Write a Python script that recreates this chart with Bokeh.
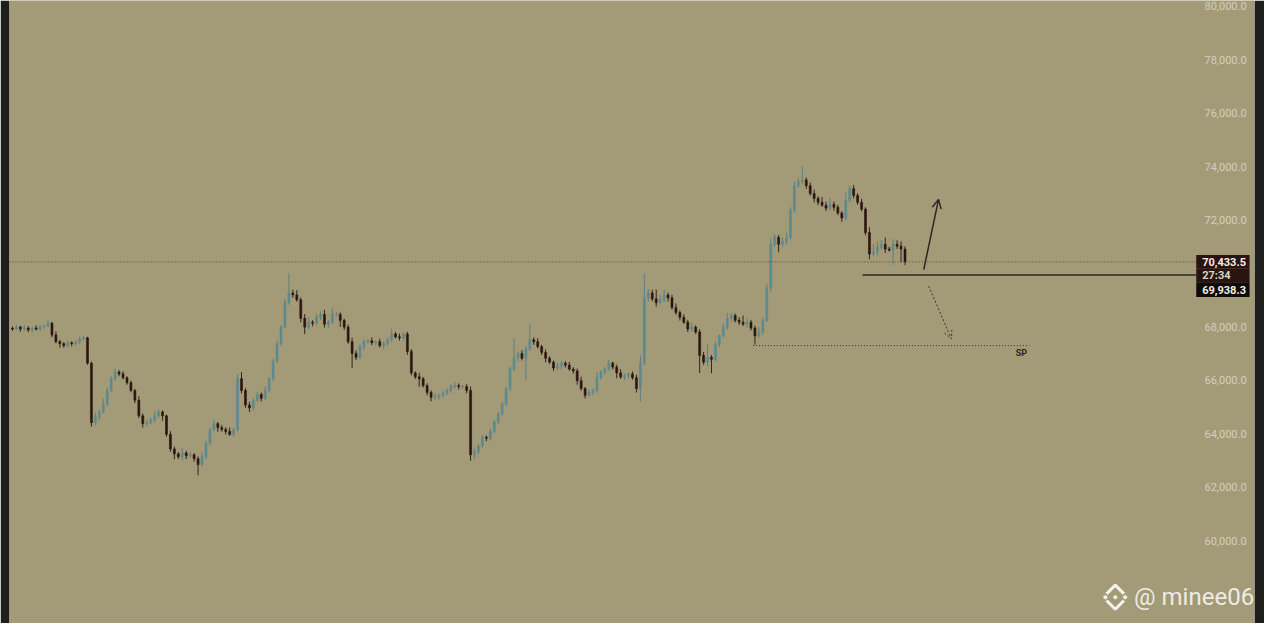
import numpy as np
from bokeh.plotting import figure
from bokeh.models import ColumnDataSource, Arrow, OpenHead, Range1d
from bokeh.embed import file_html
from bokeh.resources import INLINE
from bokeh.core.properties import value

# ---------------- data ----------------
first_open = 67955
close = [
    67918, 67992, 67918, 67955, 67882, 67955, 67918, 67992, 68028, 68138,
    67700, 67444, 67371, 67298, 67408, 67371, 67444, 67554, 67590, 66641,
    64415, 64634, 64816, 65108, 65619, 66057, 66313, 66240, 66094, 65911,
    65619, 65254, 64670, 64378, 64415, 64524, 64670, 64816, 64670, 63977,
    63429, 63247, 63137, 63283, 63174, 63210, 63064, 62845, 63137, 63648,
    64159, 64378, 64232, 64159, 64086, 63977, 64159, 66057, 65619, 65072,
    64962, 65254, 65473, 65327, 65619, 66057, 66714, 67371, 67992, 68904,
    69269, 69196, 69014, 68320, 67992, 68174, 68138, 68357, 68466, 68101,
    68174, 68466, 68466, 68247, 67992, 67444, 67006, 66860, 67262, 67444,
    67481, 67408, 67444, 67298, 67371, 67517, 67736, 67627, 67590, 67736,
    67079, 66276, 66130, 66057, 65802, 65546, 65364, 65400, 65437, 65510,
    65619, 65765, 65802, 65765, 65765, 65619, 63210, 63320, 63539, 63867,
    63831, 64086, 64451, 64743, 65108, 65692, 66422, 66860, 67006, 66824,
    67189, 67517, 67444, 67262, 67043, 66824, 66678, 66459, 66532, 66641,
    66568, 66422, 66349, 65984, 65692, 65437, 65546, 65619, 66094, 66313,
    66422, 66641, 66495, 66276, 66130, 66167, 66240, 66094, 65692, 66641,
    69087, 69269, 69050, 68904, 69014, 69196, 69087, 68722, 68539, 68357,
    68174, 67918, 67992, 67809, 66933, 66678, 66860, 66787, 67335, 67663,
    67992, 68320, 68430, 68247, 68174, 68101, 68174, 67955, 67663, 67809,
    68247, 69452, 71094, 71350, 71094, 71204, 71350, 72372, 73284, 73430,
    73503, 73284, 72992, 72810, 72664, 72554, 72445, 72591, 72481, 72262,
    72080, 72737, 73175, 72919, 72664, 72408, 71532, 70729, 70802, 70985,
    71094, 70912, 70875, 71094, 71021, 70912, 70433.5,
]
upper_wick = [
    60, 90, 50, 120, 70, 60, 100, 80, 60, 110,
    50, 130, 70, 60, 90, 50, 60, 80, 70, 40,
    60, 150, 80, 200, 110, 90, 120, 70, 100, 60,
    80, 60, 150, 90, 120, 70, 160, 90, 60, 40,
    120, 90, 60, 180, 80, 110, 70, 90, 150, 80,
    70, 140, 60, 100, 80, 150, 60, 180, 250, 90,
    120, 80, 110, 70, 160, 60, 90, 120, 80, 150,
    730, 120, 180, 90, 160, 200, 80, 140, 110, 170,
    90, 260, 120, 80, 60, 100, 150, 110, 80, 90,
    70, 130, 60, 110, 80, 90, 200, 70, 120, 60,
    80, 90, 60, 150, 70, 90, 80, 120, 60, 100,
    70, 90, 140, 80, 60, 90, 150, 120, 80, 90,
    70, 110, 60, 80, 100, 60, 90, 700, 80, 120,
    100, 580, 90, 130, 70, 110, 80, 60, 120, 90,
    80, 120, 70, 90, 150, 60, 110, 80, 200, 90,
    70, 120, 60, 90, 140, 80, 60, 90, 110, 300,
    900, 150, 120, 350, 180, 200, 90, 110, 160, 80,
    120, 90, 150, 70, 100, 130, 480, 90, 110, 60,
    140, 200, 90, 70, 110, 250, 150, 80, 90, 180,
    100, 150, 220, 120, 90, 150, 180, 110, 160, 140,
    510, 90, 120, 150, 80, 200, 130, 250, 100, 90,
    70, 300, 110, 140, 90, 130, 70, 200, 300, 220,
    150, 250, 90, 200, 150, 180, 100,
]
lower_wick = [
    70, 50, 100, 60, 80, 90, 50, 70, 60, 40,
    90, 60, 150, 80, 70, 100, 60, 80, 50, 60,
    150, 90, 130, 60, 80, 50, 70, 90, 60, 80,
    70, 110, 80, 150, 90, 60, 100, 70, 180, 90,
    100, 200, 80, 150, 120, 70, 110, 400, 60, 80,
    90, 70, 160, 80, 110, 60, 90, 70, 110, 100,
    150, 90, 70, 120, 60, 80, 100, 70, 90, 60,
    80, 110, 70, 150, 260, 90, 120, 80, 100, 130,
    140, 70, 90, 250, 110, 80, 550, 100, 70, 130,
    60, 90, 110, 80, 140, 70, 90, 60, 100, 80,
    130, 90, 80, 300, 70, 110, 150, 90, 120, 80,
    60, 90, 70, 110, 80, 100, 220, 150, 80, 60,
    110, 90, 70, 80, 60, 90, 100, 70, 140, 80,
    840, 90, 120, 70, 100, 150, 60, 110, 80, 130,
    90, 70, 100, 150, 80, 120, 60, 90, 80, 70,
    110, 60, 90, 200, 80, 120, 90, 70, 150, 500,
    80, 120, 90, 150, 70, 100, 140, 80, 90, 120,
    70, 110, 90, 80, 660, 100, 150, 520, 90, 80,
    60, 90, 120, 80, 100, 70, 130, 90, 330, 80,
    100, 70, 150, 110, 300, 90, 120, 80, 100, 70,
    90, 120, 80, 150, 100, 60, 110, 90, 130, 80,
    150, 90, 70, 110, 90, 80, 100, 200, 90, 120,
    80, 150, 60, 560, 100, 500, 120,
]
tick_values = [60000, 62000, 64000, 66000, 68000, 70000, 72000, 74000, 76000, 78000, 80000]
tick_labels = ["60,000.0", "62,000.0", "64,000.0", "66,000.0", "68,000.0", "70,000.0",
               "72,000.0", "74,000.0", "76,000.0", "78,000.0", "80,000.0"]
last_price = 70433.5
last_label = "70,433.5"
countdown = "27:34"
level_price = 69938.3
level_label = "69,938.3"
sp_level = 67300
sp_label = "SP"
watermark = "@ minee06"

# ---------------- build ----------------
BG = "#a39b78"
UP = "#5d8a8e"
DOWN = "#2c1611"
INK = "#2a2820"

n = len(close)
opens = [first_open] + close[:-1]
xs = list(range(n))
tops = [max(o, c) for o, c in zip(opens, close)]
bots = [min(o, c) for o, c in zip(opens, close)]
highs = [t + u for t, u in zip(tops, upper_wick)]
lows = [b - l for b, l in zip(bots, lower_wick)]
body_col = [UP if c >= o else DOWN for o, c in zip(opens, close)]
wick_col = ["#617e7c" if c >= o else "#34241b" for o, c in zip(opens, close)]

src = ColumnDataSource(dict(x=xs, top=tops, bottom=bots, high=highs, low=lows,
                            bc=body_col, wc=wick_col))

W, H = 1264, 623
# one "reference pixel" in data units
ux = 0.25      # index units per ref px (4 px per candle)
py = 36.5      # price per ref px
x0, x1 = -0.75, 314.5
y0, y1 = 80219 - 639 * py, 80219.0

p = figure(width=W, height=H, output_backend="svg", toolbar_location=None,
           x_range=Range1d(x0, x1), y_range=Range1d(y0, y1),
           background_fill_color=BG, border_fill_color="#1e1e1c",
           min_border_left=9, min_border_right=10, min_border_top=0, min_border_bottom=0)
p.outline_line_color = None
p.xaxis.visible = False
p.yaxis.visible = False
p.grid.visible = False

p.segment(x0="x", y0="low", x1="x", y1="high", line_color="wc", line_width=1, source=src)
p.vbar(x="x", width=0.5, top="top", bottom="bottom", fill_color="bc",
       line_color="bc", line_width=0.6, source=src)

# axis labels drawn inside the chart on the right
xr_lab = 312.5
p.text(x=[xr_lab] * len(tick_values), y=tick_values, text=tick_labels,
       text_align="right", text_baseline="middle", text_font=value("Roboto"),
       text_font_size="11px", text_color="#d3cebf")

# price lines
box_left = 299.75
box_right = 313.25
p.segment(x0=[x0], y0=[last_price], x1=[box_left], y1=[last_price],
          line_color="#4a4436", line_width=1, line_dash="1 2")
level_start = 215.25
p.segment(x0=[level_start], y0=[level_price], x1=[box_left], y1=[level_price],
          line_color=INK, line_width=1.5)
sp_start = 187.5
sp_end = 257.5
p.segment(x0=[sp_start], y0=[sp_level], x1=[sp_end], y1=[sp_level],
          line_color="#3a362b", line_width=1, line_dash="1 2")
p.text(x=[sp_end - 8 * ux], y=[sp_level - 8 * py], text=[sp_label],
       text_align="center", text_baseline="middle", text_font=value("Roboto"),
       text_font_size="9px", text_font_style="bold", text_color=INK)

# price boxes
b1_top = last_price + 7 * py
p.quad(left=[box_left] * 3, right=[box_right] * 3,
       top=[b1_top, b1_top - 14 * py, b1_top - 28 * py],
       bottom=[b1_top - 14 * py, b1_top - 28 * py, b1_top - 43 * py],
       fill_color=["#2b130f", "#2b130f", "#0e0b08"], line_color=None)
txt_x = box_left + 6 * ux
p.text(x=[txt_x] * 3,
       y=[b1_top - 7 * py, b1_top - 21 * py, b1_top - 35.5 * py],
       text=[last_label, countdown, level_label],
       text_align="left", text_baseline="middle", text_font=value("Roboto"),
       text_font_size="11px", text_font_style="bold",
       text_color=["#f2eee4", "#d9d3c4", "#f2eee4"])

# arrows
a1 = Arrow(x_start=230.75, y_start=70145, x_end=234.5, y_end=72773,
           line_color=INK, line_width=1.5,
           end=OpenHead(size=9, line_color=INK, line_width=1.5))
a2 = Arrow(x_start=232.0, y_start=69525, x_end=237.75, y_end=67553,
           line_color="#3a362b", line_width=1, line_dash="2 2",
           end=OpenHead(size=8, line_color="#3a362b", line_width=1, line_dash="2 2"))
p.add_layout(a1)
p.add_layout(a2)

# watermark
wm_x = 284.0
wm_y = 80219 - 612 * py
p.text(x=[wm_x], y=[wm_y], text=[watermark], text_align="left", text_baseline="middle",
       text_font=value("Roboto"), text_font_size="24px", text_color="#f4f2ec", text_alpha=0.95)
logo_x = 279.25
p.scatter(x=[logo_x], y=[wm_y], marker="square", size=17, angle=np.pi / 4,
          fill_color=None, line_color="#f4f2ec", line_width=3)
p.scatter(x=[logo_x, logo_x - 10 * ux, logo_x + 10 * ux], y=[wm_y] * 3,
          marker="square", size=[5, 5, 5], angle=np.pi / 4,
          fill_color="#f4f2ec", line_color=BG, line_width=1.5)

open("out.html", "w").write(file_html(p, INLINE))
